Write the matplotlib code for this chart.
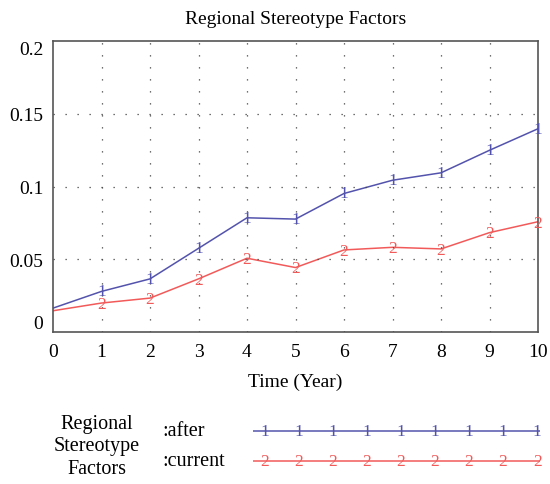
import matplotlib
matplotlib.use('Agg')
import matplotlib.pyplot as plt
import numpy as np

plt.rcParams['font.family'] = ['Liberation Serif', 'DejaVu Serif']

# data
years = [0, 1, 2, 3, 4, 5, 6, 7, 8, 9, 10]
after = [0.0164, 0.0279, 0.0365, 0.0575, 0.0785, 0.0776, 0.0952, 0.1043, 0.1094, 0.1249, 0.1397]
current = [0.0146, 0.0199, 0.0233, 0.0365, 0.0507, 0.0443, 0.0564, 0.0582, 0.0571, 0.0683, 0.0758]
yticks = [0, 0.05, 0.1, 0.15, 0.2]
ytick_labels = ['0', '0.05', '0.1', '0.15', '0.2']

blue = '#5353ad'
red = '#f25a5a'

fig = plt.figure(figsize=(5.5, 4.85), dpi=100)
ax = fig.add_axes([53/550, 1 - 333/485, 485/550, 291/485])

ax.plot(years, after, color=blue, lw=1.1)
ax.plot(years, current, color=red, lw=1.1)
# number markers on the lines
for x, y in zip(years[1:], after[1:]):
    ax.text(x, y, '1', color=blue, fontsize=12.5, ha='center', va='center')
for x, y in zip(years[1:], current[1:]):
    ax.text(x, y - 0.0006, '2', color=red, fontsize=12.5, ha='center', va='center')

ax.set_xlim(0, 10)
ax.set_ylim(0, 0.2)
ax.set_xticks(years)
ax.set_yticks(yticks)
ax.set_yticklabels(ytick_labels)
labs = ax.get_yticklabels()
labs[0].set_va('bottom')
labs[-1].set_va('top')
ax.tick_params(length=0, labelsize=14, pad=7)
ax.tick_params(axis='x', pad=8)

for v in years[1:-1]:
    ax.axvline(v, color='#444444', lw=0.9, ls=(0, (1, 8.6)))
for v in yticks[1:-1]:
    ax.axhline(v, color='#444444', lw=0.9, ls=(0, (1, 8.6)))
for s in ax.spines.values():
    s.set_color('#555555')
    s.set_linewidth(1.2)

ax.set_title('Regional Stereotype Factors', fontsize=14, pad=13)
ax.set_xlabel('Time (Year)', fontsize=14, labelpad=9)

# legend block below the plot
fig.text(97/550, 1 - 447/485, 'Regional\nStereotype\nFactors', ha='center', va='center',
         fontsize=14.5, linespacing=1.25)
fig.text(162/550, 1 - 432/485, ':after', ha='left', va='center', fontsize=14.5)
fig.text(162/550, 1 - 462/485, ':current', ha='left', va='center', fontsize=14.5)

lax = fig.add_axes([253/550, 1 - 475/485, 287/550, 55/485])
lax.set_xlim(0, 1)
lax.set_ylim(0, 1)
lax.axis('off')
legend_marks = np.linspace(0.042, 0.99, 9)
lax.plot([0, 1], [0.78, 0.78], color=blue, lw=1.1)
lax.plot([0, 1], [0.24, 0.24], color=red, lw=1.1)
for m in legend_marks:
    lax.text(m, 0.78, '1', color=blue, fontsize=12.5, ha='center', va='center')
    lax.text(m, 0.24, '2', color=red, fontsize=12.5, ha='center', va='center')

fig.savefig('out.png', dpi=100)
